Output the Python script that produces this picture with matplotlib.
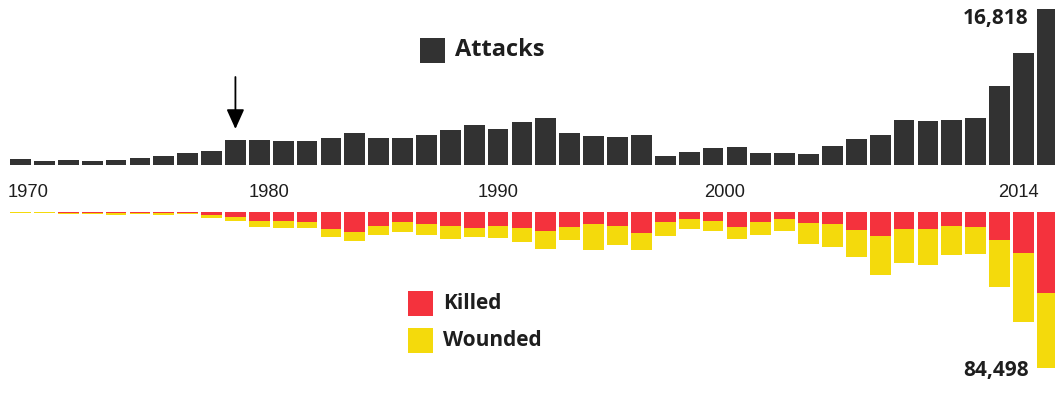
import matplotlib
matplotlib.use("Agg")
import matplotlib.pyplot as plt
from matplotlib.patches import Rectangle
from matplotlib.transforms import blended_transform_factory
import numpy as np

# ---------------- data ----------------
years = list(range(1970, 1993)) + list(range(1994, 2015))
attacks = [651, 471, 568, 473, 581, 740, 923, 1319, 1526, 2662,
           2662, 2586, 2544, 2870, 3495, 2915, 2860, 3183, 3721, 4324,
           3887, 4683, 5071, 3456, 3081, 3058, 3200, 934, 1395,
           1814, 1906, 1333, 1278, 1166, 2017, 2758, 3242, 4805, 4721,
           4826, 5076, 8522, 12036, 16818]
killed = [250, 250, 570, 370, 540, 620, 670, 460, 1600, 2500,
          4700, 4900, 5400, 9400, 10800, 7400, 5500, 6750, 7550, 8400,
          7570, 8660, 10280, 8300, 6670, 7570, 11360, 5410, 3970,
          4870, 8300, 5410, 3610, 5950, 6490, 9560, 12800, 9200, 9200,
          7750, 8300, 15330, 22370, 43830]
wounded = [300, 200, 410, 500, 860, 720, 750, 520, 1900, 2200,
           3650, 3500, 3300, 4400, 5000, 4800, 5500, 5850, 6900, 5400,
           6310, 7570, 9560, 7030, 14070, 10460, 9020, 7750, 5050,
           5410, 6130, 6850, 6850, 11360, 12620, 14970, 21460, 18570, 19290,
           15690, 14430, 25430, 37160, 40668]
tick_years = ["1970", "1980", "1990", "2000", "2014"]
tick_pos = [0.3, 10.4, 20.0, 29.5, 41.8]
arrow_year = 1979

# ---------------- style ----------------
W, H = 1055, 419
C_ATT = "#323232"
C_KIL = "#f4323d"
C_WOU = "#f4da0c"
TXT = "#1e1e1e"
BOLD = ["Open Sans", "DejaVu Sans"]
REG = ["Liberation Sans", "DejaVu Sans"]

fig = plt.figure(figsize=(W / 100, H / 100), dpi=100)
fig.patch.set_facecolor("white")

x = np.arange(len(years))
step = 23.88
x0px = 20.5
xlim = (-x0px / step, (W - x0px) / step)

# top axis: baseline at y=165 px from top, 16818 at y=9 px
base_top = 165
px_per_att = (base_top - 9) / attacks[-1]
ax_t = fig.add_axes([0, (H - base_top) / H, 1, base_top / H])
ax_t.bar(x, attacks, width=0.87, color=C_ATT, linewidth=0)
ax_t.set_xlim(*xlim)
ax_t.set_ylim(0, base_top / px_per_att)
ax_t.axis("off")

# bottom axis: baseline at y=212 px, 84,498 at y=368 px
base_bot = 212
total = np.array(killed) + np.array(wounded)
px_per_cas = (368 - base_bot) / total[-1]
ax_b = fig.add_axes([0, 0, 1, (H - base_bot) / H])
ax_b.bar(x, -np.array(killed), width=0.87, color=C_KIL, linewidth=0)
ax_b.bar(x, -np.array(wounded), bottom=-np.array(killed), width=0.87,
         color=C_WOU, linewidth=0)
ax_b.set_xlim(*xlim)
ax_b.set_ylim(-(H - base_bot) / px_per_cas, 0)
ax_b.axis("off")

# tick labels
tr = blended_transform_factory(ax_t.transData, fig.transFigure)
for lab, p in zip(tick_years, tick_pos):
    fig.text(p, (H - 192.5) / H, lab, transform=tr, ha="center", va="center",
             fontsize=13.2, family=REG, color=TXT)

# value labels
last = len(years) - 1
ax_t.annotate(f"{attacks[-1]:,}", xy=(last - 0.44, attacks[-1]),
              xytext=(-6, -6.5), textcoords="offset points",
              ha="right", va="center", fontsize=15, fontweight="bold",
              family=BOLD, color=TXT)
ax_b.annotate(f"{int(total[-1]):,}", xy=(last - 0.44, -total[-1]),
              xytext=(-6, -1.5), textcoords="offset points",
              ha="right", va="center", fontsize=15, fontweight="bold",
              family=BOLD, color=TXT)

# arrow
ai = years.index(arrow_year)
tip_y = (base_top - 129) / px_per_att
tail_y = (base_top - 77) / px_per_att
ax_t.annotate("", xy=(ai, tip_y), xytext=(ai, tail_y),
              arrowprops=dict(arrowstyle="-|>,head_length=0.6,head_width=0.27",
                              mutation_scale=20, color="black", lw=1.3,
                              shrinkA=0, shrinkB=0))

# legends
def legend_item(x_px, y_px, color, label, size):
    fig.patches.append(Rectangle((x_px / W, (H - y_px - 25) / H), 25 / W, 25 / H,
                                 transform=fig.transFigure, color=color,
                                 linewidth=0))
    fig.text((x_px + 35) / W, (H - y_px - 12.5) / H, label, ha="left",
             va="center", fontsize=size, fontweight="bold", family=BOLD,
             color=TXT)

legend_item(420, 38, C_ATT, "Attacks", 17)
legend_item(408, 291, C_KIL, "Killed", 15)
legend_item(408, 328, C_WOU, "Wounded", 15)

fig.savefig("out.png", dpi=100, facecolor="white")
